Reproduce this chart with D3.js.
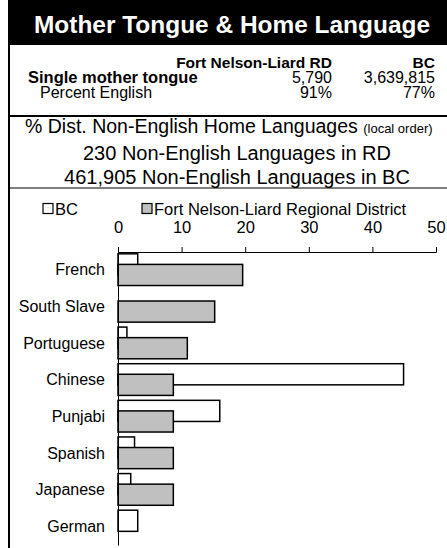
<!DOCTYPE html>
<html>
<head>
<meta charset="utf-8">
<script src="https://cdn.jsdelivr.net/npm/d3@7"></script>
<style>
    body { margin: 0; background: white; }
    svg { display: block; font-family: Arial, "Liberation Sans", sans-serif; }
</style>
</head>
<body>
<svg id="chart" width="447" height="548"></svg>
<script>
const categories = ["French", "South Slave", "Portuguese", "Chinese", "Punjabi", "Spanish", "Japanese", "German"];
const bcValues = [3.1, 0, 1.4, 44.9, 16.0, 2.6, 2.0, 3.1];
const rdValues = [19.6, 15.2, 10.9, 8.7, 8.7, 8.7, 8.7, 0];
const xTicks = [0, 10, 20, 30, 40, 50];
const seriesNames = ["BC", "Fort Nelson-Liard Regional District"];
const seriesColors = ["#ffffff", "#c0c0c0"];

const title = "Mother Tongue & Home Language";
const tableHeader = ["Fort Nelson-Liard RD", "BC"];
const tableRows = [
    { label: "Single mother tongue", rd: "5,790", bc: "3,639,815", bold: true },
    { label: "Percent English", rd: "91%", bc: "77%", bold: false }
];
const subLines = ["230 Non-English Languages in RD", "461,905 Non-English Languages in BC"];

const svg = d3.select("#chart");

// header block
svg.append("rect")
    .attr("x", 8).attr("y", 0)
    .attr("width", 460).attr("height", 45)
    .attr("fill", "black");
svg.append("text")
    .attr("x", 34).attr("y", 33)
    .attr("fill", "white")
    .attr("font-size", 24)
    .attr("font-weight", "bold")
    .attr("textLength", 396)
    .attr("lengthAdjust", "spacingAndGlyphs")
    .text(title);

// frame lines
svg.append("line")
    .attr("x1", 9).attr("x2", 9).attr("y1", 45).attr("y2", 548)
    .attr("stroke", "black").attr("stroke-width", 2);
svg.append("line")
    .attr("x1", 8).attr("x2", 447).attr("y1", 116).attr("y2", 116)
    .attr("stroke", "black").attr("stroke-width", 2);
svg.append("line")
    .attr("x1", 8).attr("x2", 447).attr("y1", 188).attr("y2", 188)
    .attr("stroke", "black").attr("stroke-width", 1);

// little table
const colRd = 332, colBc = 435;
svg.append("text")
    .attr("x", colRd).attr("y", 67.5)
    .attr("text-anchor", "end").attr("font-size", 15.5).attr("font-weight", "bold")
    .text(tableHeader[0]);
svg.append("text")
    .attr("x", colBc).attr("y", 67.5)
    .attr("text-anchor", "end").attr("font-size", 15.5).attr("font-weight", "bold")
    .text(tableHeader[1]);

tableRows.forEach((r, i) => {
    let yy = 82.5 + i * 15;
    svg.append("text")
        .attr("x", r.bold ? 28 : 40).attr("y", yy)
        .attr("font-size", r.bold ? 16.5 : 16)
        .attr("font-weight", r.bold ? "bold" : "normal")
        .text(r.label);
    svg.append("text")
        .attr("x", colRd).attr("y", yy)
        .attr("text-anchor", "end").attr("font-size", 16)
        .text(r.rd);
    svg.append("text")
        .attr("x", colBc).attr("y", yy)
        .attr("text-anchor", "end").attr("font-size", 16)
        .text(r.bc);
});

// section heading
const head = svg.append("text")
    .attr("x", 25).attr("y", 133)
    .attr("font-size", 19.5);
head.append("tspan").text("% Dist. Non-English Home Languages ");
head.append("tspan").attr("font-size", 13).text("(local order)");

subLines.forEach((s, i) => {
    svg.append("text")
        .attr("x", 237).attr("y", 159.5 + i * 24)
        .attr("text-anchor", "middle")
        .attr("font-size", 20)
        .text(s);
});

// legend
const legendX = [43, 142];
seriesNames.forEach((n, i) => {
    svg.append("rect")
        .attr("x", legendX[i]).attr("y", 203.5)
        .attr("width", 10).attr("height", 10)
        .attr("fill", seriesColors[i])
        .attr("stroke", "black").attr("stroke-width", 1.2);
    svg.append("text")
        .attr("x", legendX[i] + 12).attr("y", 214.5)
        .attr("font-size", 16.5)
        .text(n);
});

// chart
const xScale = d3.scaleLinear().domain([0, 50]).range([118, 436]);
const yScale = d3.scaleBand().domain(categories).range([252, 545]).paddingInner(0).paddingOuter(0);
const bw = yScale.bandwidth();
const barH = bw * 0.577;

const xAxis = d3.axisTop(xScale).tickValues(xTicks).tickSize(5).tickSizeOuter(5).tickPadding(14);
svg.append("g")
    .attr("transform", "translate(0,252)")
    .call(xAxis)
    .call(g => g.selectAll("text").attr("font-size", 16.5).attr("fill", "black").attr("font-family", null))
    .call(g => g.selectAll("line,path").attr("stroke", "black"));

const bars = svg.append("g");
// BC bars sit behind, RD bars overlap them by half
bars.selectAll("rect.bc")
    .data(categories)
    .enter()
    .append("rect")
    .attr("class", "bc")
    .attr("x", xScale(0))
    .attr("y", d => yScale(d) + bw * 0.05)
    .attr("width", (d, i) => xScale(bcValues[i]) - xScale(0))
    .attr("height", barH)
    .attr("fill", seriesColors[0])
    .attr("stroke", (d, i) => bcValues[i] > 0 ? "black" : "none")
    .attr("stroke-width", 1.5);

bars.selectAll("rect.rd")
    .data(categories)
    .enter()
    .append("rect")
    .attr("class", "rd")
    .attr("x", xScale(0))
    .attr("y", d => yScale(d) + bw * 0.05 + barH / 2)
    .attr("width", (d, i) => xScale(rdValues[i]) - xScale(0))
    .attr("height", barH)
    .attr("fill", seriesColors[1])
    .attr("stroke", (d, i) => rdValues[i] > 0 ? "black" : "none")
    .attr("stroke-width", 1.5);

const yAxis = d3.axisLeft(yScale).tickSize(0).tickSizeOuter(0).tickPadding(13);
svg.append("g")
    .attr("transform", "translate(118,0)")
    .call(yAxis)
    .call(g => g.selectAll("text").attr("font-size", 16).attr("fill", "black").attr("font-family", null))
    .call(g => g.select("path").attr("stroke", "black"));
</script>
</body>
</html>
